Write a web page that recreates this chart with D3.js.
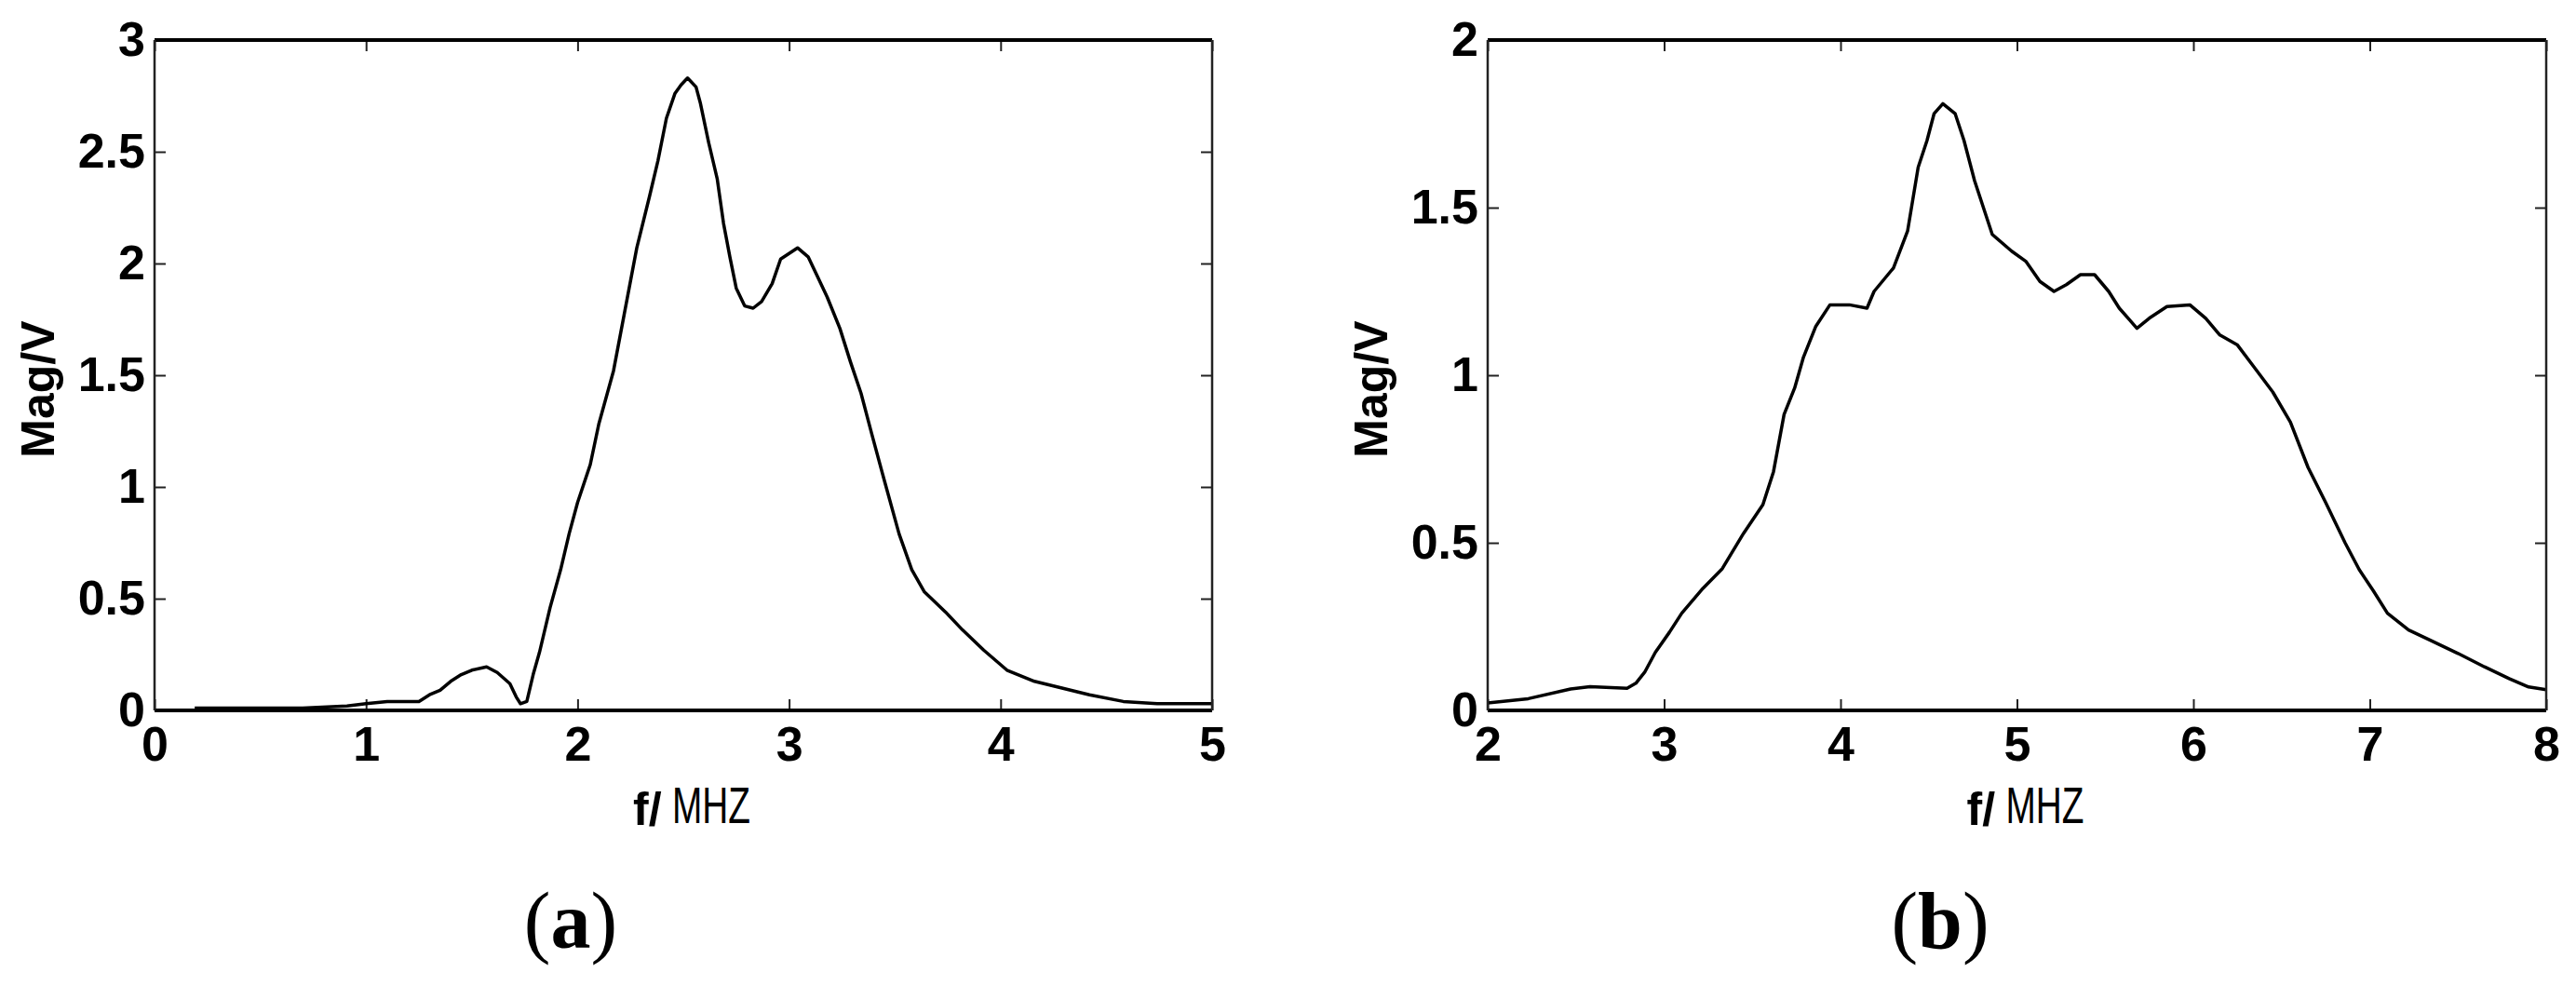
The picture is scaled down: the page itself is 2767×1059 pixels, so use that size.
<!DOCTYPE html>
<html>
<head>
<meta charset="utf-8">
<script src="https://cdn.jsdelivr.net/npm/d3@7"></script>
<style>
  html, body { margin: 0; padding: 0; background: #fff; }
  svg { display: block; }
</style>
</head>
<body>
<svg id="chart" width="2767" height="1059"></svg>
<script>
// ---- Data: panel (a) ----
const freqA = [0.19, 0.3, 0.5, 0.7, 0.91, 1.0, 1.1, 1.25, 1.3, 1.35, 1.4, 1.45, 1.5, 1.57, 1.62, 1.68, 1.71, 1.73, 1.76, 1.79, 1.82, 1.87, 1.92, 1.96, 2.0, 2.06, 2.1, 2.17, 2.22, 2.28, 2.34, 2.38, 2.42, 2.46, 2.49, 2.52, 2.56, 2.58, 2.62, 2.66, 2.69, 2.72, 2.75, 2.79, 2.83, 2.87, 2.92, 2.96, 3.04, 3.09, 3.14, 3.18, 3.24, 3.29, 3.34, 3.39, 3.45, 3.52, 3.58, 3.64, 3.74, 3.82, 3.92, 4.03, 4.16, 4.29, 4.42, 4.58, 4.74, 5.0];
const magA  = [0.01, 0.01, 0.01, 0.01, 0.02, 0.03, 0.04, 0.04, 0.07, 0.09, 0.13, 0.16, 0.18, 0.195, 0.17, 0.12, 0.06, 0.03, 0.04, 0.16, 0.26, 0.46, 0.63, 0.79, 0.93, 1.10, 1.28, 1.52, 1.77, 2.07, 2.30, 2.46, 2.65, 2.76, 2.80, 2.83, 2.79, 2.72, 2.54, 2.38, 2.18, 2.03, 1.89, 1.81, 1.80, 1.83, 1.91, 2.02, 2.07, 2.03, 1.93, 1.85, 1.71, 1.56, 1.42, 1.24, 1.03, 0.79, 0.63, 0.53, 0.44, 0.36, 0.27, 0.18, 0.13, 0.10, 0.07, 0.04, 0.03, 0.03];

// ---- Data: panel (b) ----
const freqB = [2.0, 2.23, 2.47, 2.58, 2.79, 2.84, 2.89, 2.95, 3.03, 3.10, 3.22, 3.33, 3.45, 3.56, 3.62, 3.68, 3.74, 3.79, 3.86, 3.94, 4.05, 4.15, 4.19, 4.30, 4.38, 4.44, 4.49, 4.53, 4.58, 4.65, 4.70, 4.76, 4.86, 4.97, 5.05, 5.13, 5.21, 5.28, 5.36, 5.44, 5.52, 5.58, 5.68, 5.75, 5.85, 5.98, 6.07, 6.15, 6.25, 6.35, 6.45, 6.55, 6.65, 6.75, 6.86, 6.94, 7.02, 7.10, 7.22, 7.34, 7.50, 7.65, 7.79, 7.90, 8.0];
const magB  = [0.022, 0.035, 0.064, 0.071, 0.066, 0.081, 0.114, 0.173, 0.233, 0.29, 0.364, 0.423, 0.528, 0.614, 0.712, 0.883, 0.962, 1.054, 1.146, 1.21, 1.21, 1.20, 1.25, 1.32, 1.43, 1.62, 1.70, 1.78, 1.81, 1.78, 1.70, 1.58, 1.42, 1.37, 1.34, 1.28, 1.25, 1.27, 1.30, 1.30, 1.25, 1.20, 1.14, 1.17, 1.205, 1.21, 1.17, 1.12, 1.09, 1.02, 0.95, 0.86, 0.725, 0.62, 0.50, 0.42, 0.357, 0.29, 0.24, 0.21, 0.17, 0.13, 0.095, 0.07, 0.062];

// ---- Tick labels ----
const xTicksA = [0, 1, 2, 3, 4, 5];
const yTicksA = [0, 0.5, 1, 1.5, 2, 2.5, 3];
const xTicksB = [2, 3, 4, 5, 6, 7, 8];
const yTicksB = [0, 0.5, 1, 1.5, 2];
const yLabel = "Mag/V";
const xLabelBold = "f/";
const xLabelUnit = "MHZ";
const captions = ["a", "b"];

const svg = d3.select("#chart");
const tickFont = "'Liberation Sans', Arial, sans-serif";

function panel(opts) {
  const { left, right, top, bottom, xDomain, yDomain, xTicks, yTicks, xs, ys, caption, captionX } = opts;
  const x = d3.scaleLinear().domain(xDomain).range([left, right]);
  const y = d3.scaleLinear().domain(yDomain).range([bottom, top]);
  const g = svg.append("g");

  const fmt = d => String(d);

  // bottom axis (inward ticks)
  const ax = g.append("g").attr("transform", `translate(0,${bottom})`)
    .call(d3.axisBottom(x).tickValues(xTicks).tickFormat(fmt).tickSize(-12).tickPadding(17));
  // left axis
  const ay = g.append("g").attr("transform", `translate(${left},0)`)
    .call(d3.axisLeft(y).tickValues(yTicks).tickFormat(fmt).tickSize(-12).tickPadding(10));
  // top mirror ticks
  const at = g.append("g").attr("transform", `translate(0,${top})`)
    .call(d3.axisTop(x).tickValues(xTicks).tickFormat("").tickSize(-12));
  // right mirror ticks
  const ar = g.append("g").attr("transform", `translate(${right},0)`)
    .call(d3.axisRight(y).tickValues(yTicks).tickFormat("").tickSize(-12));

  [ax, ay, at, ar].forEach(a => {
    a.select(".domain").remove();
    a.selectAll(".tick line").attr("stroke", "#222").attr("stroke-width", 2);
    a.selectAll(".tick text")
      .attr("font-family", tickFont)
      .attr("font-weight", "bold")
      .attr("font-size", 52)
      .attr("fill", "#000");
  });

  // curve
  const data = xs.map((d, i) => [d, ys[i]]);
  g.append("path")
    .datum(data)
    .attr("fill", "none")
    .attr("stroke", "#000")
    .attr("stroke-width", 3.5)
    .attr("stroke-linejoin", "round")
    .attr("d", d3.line().x(d => x(d[0])).y(d => y(d[1])));

  // frame
  g.append("line").attr("x1", left).attr("x2", right).attr("y1", top).attr("y2", top)
    .attr("stroke", "#000").attr("stroke-width", 4);
  g.append("line").attr("x1", left).attr("x2", right).attr("y1", bottom).attr("y2", bottom)
    .attr("stroke", "#000").attr("stroke-width", 4);
  g.append("line").attr("x1", left).attr("x2", left).attr("y1", top).attr("y2", bottom)
    .attr("stroke", "#222").attr("stroke-width", 2.5);
  g.append("line").attr("x1", right).attr("x2", right).attr("y1", top).attr("y2", bottom)
    .attr("stroke", "#222").attr("stroke-width", 2.5);

  // y label
  const cy = (top + bottom) / 2 + 15;
  g.append("text")
    .attr("transform", `translate(${left - 108},${cy}) rotate(-90)`)
    .attr("text-anchor", "middle")
    .attr("font-family", tickFont)
    .attr("font-weight", "bold")
    .attr("font-size", 50)
    .text(yLabel);

  // x label
  const cx = (left + right) / 2 + 6;
  const xl = g.append("text")
    .attr("x", cx - 60).attr("y", 886)
    .attr("font-family", tickFont)
    .attr("font-size", 50);
  xl.append("tspan").attr("font-weight", "bold").text(xLabelBold);
  g.append("text")
    .attr("x", cx - 18).attr("y", 884)
    .attr("font-family", "'Liberation Sans Narrow', 'Liberation Sans', sans-serif")
    .attr("font-size", 55)
    .attr("textLength", 84)
    .attr("lengthAdjust", "spacingAndGlyphs")
    .text(xLabelUnit);

  // caption
  const cap = g.append("text")
    .attr("x", captionX).attr("y", 1018)
    .attr("text-anchor", "middle")
    .attr("font-family", "'Liberation Serif', 'Times New Roman', serif")
    .attr("font-size", 86);
  cap.append("tspan").text("(");
  cap.append("tspan").attr("font-weight", "bold").text(caption);
  cap.append("tspan").text(")");
}

panel({ left: 166, right: 1302, top: 43, bottom: 763, xDomain: [0, 5], yDomain: [0, 3],
        xTicks: xTicksA, yTicks: yTicksA, xs: freqA, ys: magA, caption: captions[0], captionX: 613 });
panel({ left: 1598, right: 2735, top: 43, bottom: 763, xDomain: [2, 8], yDomain: [0, 2],
        xTicks: xTicksB, yTicks: yTicksB, xs: freqB, ys: magB, caption: captions[1], captionX: 2084 });
</script>
</body>
</html>
